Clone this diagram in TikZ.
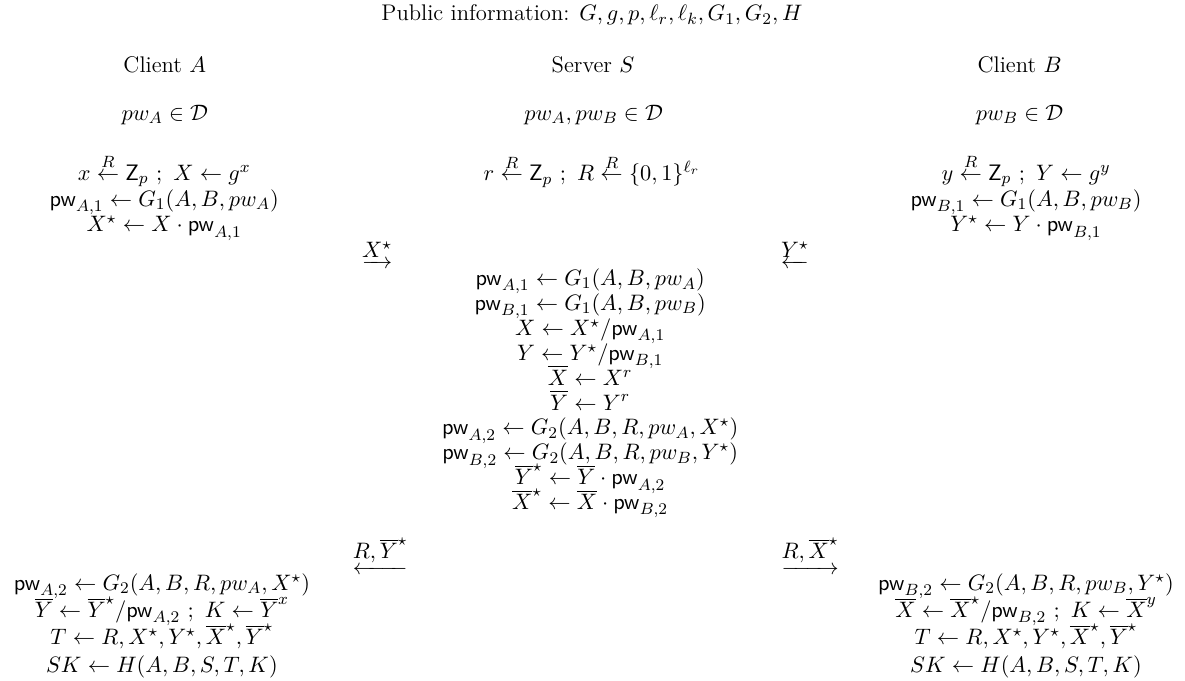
\documentclass[tikz,border=0pt]{standalone}
\usepackage{amsmath, amssymb}
\usepackage{tikz}
\usetikzlibrary{positioning}
\protected\def\tightlines{\lineskiplimit=-100pt\relax}

\begin{document}
\begin{tikzpicture}[blk/.style={align=center, inner sep=0pt, font=\fontsize{11.1}{12.2}\selectfont\tightlines},
    top/.style={blk, font=\fontsize{11.1}{12.6}\selectfont\tightlines},
    low/.style={blk, font=\fontsize{11.1}{13.4}\selectfont\tightlines},
    msg/.style={inner sep=0pt, font=\fontsize{11.1}{12.2}\selectfont}]
  \useasboundingbox (0,0) rectangle (20.42,-11.73);
  % header
  \node[blk] (pub) at (10.20,-0.26) {Public information: $G,g,p,\ell_r,\ell_k,G_1,G_2,H$};
  \node[blk] (cliA) at (2.84,-1.12) {Client $A$};
  \node[blk] (srv) at (10.22,-1.12) {Server $S$};
  \node[blk] (cliB) at (17.57,-1.12) {Client $B$};
  \node[blk] (pwA) at (2.84,-1.98) {$pw_A \in \mathcal{D}$};
  \node[blk] (pwS) at (10.23,-1.98) {$pw_A, pw_B \in \mathcal{D}$};
  \node[blk] (pwB) at (17.57,-1.98) {$pw_B \in \mathcal{D}$};
  % first round
  \node[top] (a1) at (2.83,-3.40) {$x \stackrel{R}{\leftarrow} \mathsf{Z}_p~;~X \leftarrow g^x$\\
    $\mathsf{pw}_{A,1} \leftarrow G_1(A,B,pw_A)$\\
    $X^\star \leftarrow X\cdot\mathsf{pw}_{A,1}$};
  \node[blk] (s1) at (10.20,-2.95) {$r \stackrel{R}{\leftarrow} \mathsf{Z}_p~;~R \stackrel{R}{\leftarrow} \{0,1\}^{\ell_r}$};
  \node[top] (b1) at (17.68,-3.40) {$y \stackrel{R}{\leftarrow} \mathsf{Z}_p~;~Y \leftarrow g^y$\\
    $\mathsf{pw}_{B,1} \leftarrow G_1(A,B,pw_B)$\\
    $Y^\star \leftarrow Y\cdot\mathsf{pw}_{B,1}$};
  \node[msg] (mA) at (6.50,-4.40) {$\underrightarrow{X^\star}$};
  \node[msg] (mB) at (13.70,-4.40) {$\underleftarrow{Y^\star}$};
  % server
  \node[blk] (s2) at (10.17,-6.78) {$\mathsf{pw}_{A,1} \leftarrow G_1(A,B,pw_A)$\\
    $\mathsf{pw}_{B,1} \leftarrow G_1(A,B,pw_B)$\\
    $X \leftarrow X^\star/\mathsf{pw}_{A,1}$\\
    $Y \leftarrow Y^\star/\mathsf{pw}_{B,1}$\\
    $\overline{X} \leftarrow X^r$\\
    $\overline{Y} \leftarrow Y^r$\\
    $\mathsf{pw}_{A,2} \leftarrow G_2(A,B,R,pw_A,X^\star)$\\
    $\mathsf{pw}_{B,2} \leftarrow G_2(A,B,R,pw_B,Y^\star)$\\
    $\overline{Y}^\star \leftarrow \overline{Y}\cdot\mathsf{pw}_{A,2}$\\
    $\overline{X}^\star \leftarrow \overline{X}\cdot\mathsf{pw}_{B,2}$};
  % second round
  \node[msg] (nA) at (6.55,-9.58) {$\underleftarrow{R,\overline{Y}^\star}$};
  \node[msg] (nB) at (13.96,-9.58) {$\underrightarrow{R,\overline{X}^\star}$};
  \node[low] (a2) at (2.79,-10.78) {$\mathsf{pw}_{A,2} \leftarrow G_2(A,B,R,pw_A,X^\star)$\\
    $\overline{Y} \leftarrow \overline{Y}^\star/\mathsf{pw}_{A,2}~;~K \leftarrow \overline{Y}^x$\\
    $T \leftarrow R,X^\star,Y^\star,\overline{X}^\star,\overline{Y}^\star$\\
    $SK \leftarrow H(A,B,S,T,K)$};
  \node[low] (b2) at (17.68,-10.78) {$\mathsf{pw}_{B,2} \leftarrow G_2(A,B,R,pw_B,Y^\star)$\\
    $\overline{X} \leftarrow \overline{X}^\star/\mathsf{pw}_{B,2}~;~K \leftarrow \overline{X}^y$\\
    $T \leftarrow R,X^\star,Y^\star,\overline{X}^\star,\overline{Y}^\star$\\
    $SK \leftarrow H(A,B,S,T,K)$};
\end{tikzpicture}
\end{document}
